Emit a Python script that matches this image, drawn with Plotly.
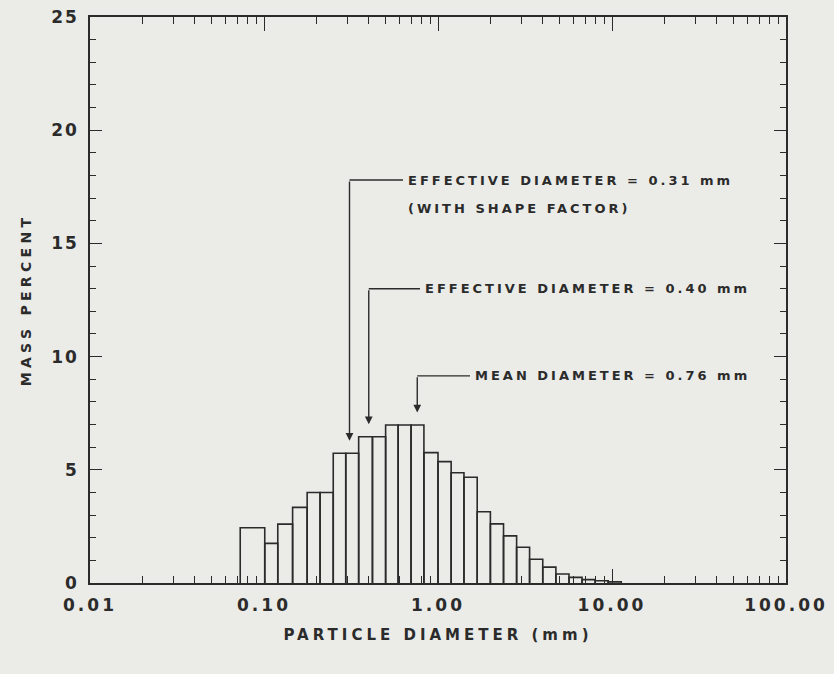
import math
import plotly.graph_objects as go

# ---------------- data ----------------
bin_edges = [0.073, 0.101, 0.120, 0.146, 0.177, 0.21, 0.25, 0.295, 0.35, 0.42,
             0.50, 0.59, 0.70, 0.83, 1.0, 1.19, 1.41, 1.68, 2.0, 2.38,
             2.83, 3.36, 4.0, 4.76, 5.66, 6.73, 8.0, 9.51, 11.3]
mass_percent = [2.44, 1.75, 2.6, 3.34, 4.0, 4.0, 5.73, 5.73, 6.46, 6.46,
                6.98, 6.98, 6.98, 5.76, 5.36, 4.87, 4.67, 3.15, 2.61, 2.08,
                1.58, 1.05, 0.7, 0.4, 0.25, 0.15, 0.1, 0.05]

marker_values = [0.31, 0.40, 0.76]
marker_labels = ["EFFECTIVE DIAMETER = 0.31 mm",
                 "EFFECTIVE DIAMETER = 0.40 mm",
                 "MEAN DIAMETER = 0.76 mm"]
marker_sublabels = ["(WITH SHAPE FACTOR)", "", ""]

x_tick_vals = [0.01, 0.1, 1, 10, 100]
x_tick_text = ["0.01", "0.10", "1.00", "10.00", "100.00"]

# ---------------- styling / layout positions ----------------
INK = "#2b2b2b"
PAPER = "#ebebe8"
FONT = "DejaVu Sans"
leader_top = [17.8, 13.0, 9.15]      # y of horizontal leader
leader_end = [0.629, 0.788, 1.527]   # x where horizontal leader ends
arrow_gap = 0.55

# build bar outlines
xs, ys = [], []
for i, h in enumerate(mass_percent):
    x0, x1 = bin_edges[i], bin_edges[i + 1]
    xs += [x0, x0, x1, x1, None]
    ys += [0, h, h, 0, None]

fig = go.Figure()
fig.add_trace(go.Scatter(x=xs, y=ys, mode="lines",
                         line=dict(color=INK, width=1.6),
                         hoverinfo="skip", showlegend=False))


def bar_height_at(v):
    for i, h in enumerate(mass_percent):
        if bin_edges[i] <= v < bin_edges[i + 1]:
            return h
    return 0


annotations = []
shapes = []
for v, lab, sub, top, end in zip(marker_values, marker_labels, marker_sublabels,
                                 leader_top, leader_end):
    tip = bar_height_at(v) + arrow_gap
    annotations.append(dict(
        x=math.log10(v), y=tip, xref="x", yref="y",
        ax=math.log10(v), ay=top, axref="x", ayref="y",
        text="", showarrow=True, arrowhead=2, arrowsize=1.1,
        arrowwidth=1.4, arrowcolor=INK, standoff=0))
    shapes.append(dict(type="line", xref="x", yref="y",
                       x0=v, x1=end, y0=top, y1=top,
                       line=dict(color=INK, width=1.4)))
    annotations.append(dict(
        x=math.log10(end), y=top, xref="x", yref="y",
        text=lab, showarrow=False, xanchor="left", yanchor="middle",
        align="left", xshift=3,
        font=dict(family=FONT, size=13, color=INK, weight="bold")))
    if sub:
        annotations.append(dict(
            x=math.log10(end), y=top, xref="x", yref="y",
            text=sub, showarrow=False, xanchor="left", yanchor="middle",
            align="left", xshift=3, yshift=-28,
            font=dict(family=FONT, size=13, color=INK, weight="bold")))

fig.update_layout(
    width=834, height=674,
    margin=dict(l=90, r=48, t=17, b=91),
    paper_bgcolor=PAPER, plot_bgcolor=PAPER,
    font=dict(family=FONT, color=INK),
    annotations=annotations, shapes=shapes,
    showlegend=False,
)

fig.update_xaxes(
    type="log", range=[-2, 2],
    tickvals=x_tick_vals, ticktext=x_tick_text,
    ticks="inside", ticklen=14, tickwidth=1.4, tickcolor=INK,
    minor=dict(ticks="inside", ticklen=7, tickwidth=1.2, tickcolor=INK, dtick="D1"),
    showline=True, linecolor=INK, linewidth=1.6, mirror="ticks",
    showgrid=False, zeroline=False,
    tickfont=dict(family=FONT, size=17, color=INK, weight="bold"),
    ticklabelstandoff=6,
    title=dict(text="PARTICLE DIAMETER (mm)",
               font=dict(family=FONT, size=15, color=INK, weight="bold"),
               standoff=15),
    automargin=False,
)
fig.update_yaxes(
    range=[0, 25], tick0=0, dtick=5,
    ticks="inside", ticklen=12, tickwidth=1.4, tickcolor=INK,
    minor=dict(ticks="inside", ticklen=6, tickwidth=1.2, tickcolor=INK, dtick=1),
    showline=True, linecolor=INK, linewidth=1.6, mirror="ticks",
    showgrid=False, zeroline=False,
    tickfont=dict(family=FONT, size=17, color=INK, weight="bold"),
    ticklabelstandoff=6,
    title=dict(text="MASS PERCENT",
               font=dict(family=FONT, size=14, color=INK, weight="bold"),
               standoff=20),
    automargin=False,
)

post = """
var gd = document.getElementById('{plot_id}');
function sp(sel, v){ gd.querySelectorAll(sel).forEach(function(t){ t.style.letterSpacing = v; }); }
sp('.annotation-text', '3px');
sp('.xtick text', '3px');
sp('.ytick text', '2px');
sp('text.xtitle', '4px');
sp('text.ytitle', '4.3px');
"""

fig.write_html("out.html", post_script=post)
